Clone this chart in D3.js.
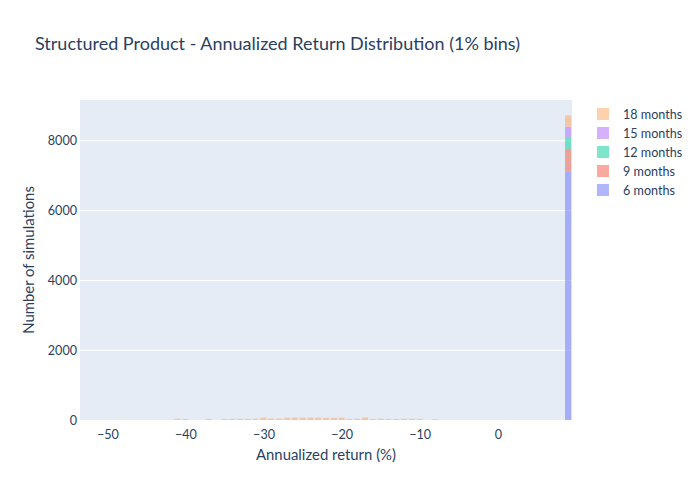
<!DOCTYPE html>
<html>
<head>
<meta charset="utf-8">
<script src="https://cdn.jsdelivr.net/npm/d3@7"></script>
<style>
  body { margin: 0; background: #fff; }
  text { font-family: Lato, "Open Sans", sans-serif; fill: #2a3f5f; }
</style>
</head>
<body>
<svg id="chart" width="700" height="500"></svg>
<script>
// series, bottom of stack first (6 months drawn first)
const seriesNames = ['6 months', '9 months', '12 months', '15 months', '18 months'];
const seriesColors = ['#636efa', '#EF553B', '#00cc96', '#ab63fa', '#FFA15A'];

// bin centres (1% bins) and counts per series
const bins = [-41, -40, -37, -35, -34, -33, -32, -31, -30, -29, -28, -27, -26, -25, -24, -23,
  -22, -21, -20, -19, -18, -17, -16, -15, -14, -13, -12, -11, -10, -8, 9];
const counts6 = [0, 0, 0, 0, 0, 0, 0, 0, 0, 0, 0, 0, 0, 0, 0, 0,
  0, 0, 0, 0, 0, 0, 0, 0, 0, 0, 0, 0, 0, 0, 7117];
const counts9 = [0, 0, 0, 0, 0, 0, 0, 0, 0, 0, 0, 0, 0, 0, 0, 0,
  0, 0, 0, 0, 0, 0, 0, 0, 0, 0, 0, 0, 0, 0, 653];
const counts12 = [0, 0, 0, 0, 0, 0, 0, 0, 0, 0, 0, 0, 0, 0, 0, 0,
  0, 0, 0, 0, 0, 0, 0, 0, 0, 0, 0, 0, 0, 0, 345];
const counts15 = [0, 0, 0, 0, 0, 0, 0, 0, 0, 0, 0, 0, 0, 0, 0, 0,
  0, 0, 0, 0, 0, 0, 0, 0, 0, 0, 0, 0, 0, 0, 288];
const counts18 = [35, 30, 25, 30, 30, 35, 30, 35, 70, 40, 40, 65, 70, 65, 70, 70,
  60, 60, 65, 30, 35, 70, 30, 35, 30, 30, 35, 35, 35, 25, 325];

const xTicks = [-50, -40, -30, -20, -10, 0];
const yTicks = [0, 2000, 4000, 6000, 8000];

const svg = d3.select('#chart');
const margin = { left: 80, right: 128, top: 100, bottom: 80 };
const W = 700, H = 500;
const pw = W - margin.left - margin.right;
const ph = H - margin.top - margin.bottom;

const x = d3.scaleLinear().domain([-53.5, 9.5]).range([margin.left, margin.left + pw]);
const y = d3.scaleLinear().domain([0, 9170]).range([margin.top + ph, margin.top]);

svg.append('rect')
  .attr('x', margin.left).attr('y', margin.top)
  .attr('width', pw).attr('height', ph)
  .attr('fill', '#e5ecf6');

// horizontal grid
svg.append('g')
  .selectAll('line')
  .data(yTicks.filter(d => d > 0))
  .join('line')
  .attr('x1', margin.left).attr('x2', margin.left + pw)
  .attr('y1', d => y(d)).attr('y2', d => y(d))
  .attr('stroke', '#fff').attr('stroke-width', 1);

// stacked bars
const allCounts = [counts6, counts9, counts12, counts15, counts18];
const rows = bins.map((b, i) => {
  const r = { bin: b };
  seriesNames.forEach((s, k) => { r[s] = allCounts[k][i]; });
  return r;
});
const stacked = d3.stack().keys(seriesNames)(rows);
const barW = (x(1) - x(0)) * 0.78;

svg.append('g')
  .selectAll('g')
  .data(stacked)
  .join('g')
  .attr('fill', (d, i) => seriesColors[i])
  .attr('fill-opacity', 0.5)
  .selectAll('rect')
  .data(d => d.filter(v => v[1] > v[0]))
  .join('rect')
  .attr('x', d => x(d.data.bin) - barW / 2)
  .attr('width', barW)
  .attr('y', d => y(d[1]))
  .attr('height', d => y(d[0]) - y(d[1]));

// axes
const xAxis = svg.append('g')
  .attr('transform', `translate(0,${margin.top + ph})`)
  .call(d3.axisBottom(x).tickValues(xTicks).tickSize(0).tickPadding(10).tickFormat(d => d < 0 ? '\u2212' + Math.abs(d) : d));
xAxis.select('.domain').remove();
xAxis.selectAll('text').attr('font-size', 12.6).style('fill', '#2a3f5f');

const yAxis = svg.append('g')
  .attr('transform', `translate(${margin.left},0)`)
  .call(d3.axisLeft(y).tickValues(yTicks).tickSize(0).tickPadding(3).tickFormat(d3.format('d')));
yAxis.select('.domain').remove();
yAxis.selectAll('text').attr('font-size', 12.6).style('fill', '#2a3f5f');

// titles
svg.append('text')
  .attr('x', 35).attr('y', 50)
  .attr('font-size', 18)
  .text('Structured Product - Annualized Return Distribution (1% bins)');

svg.append('text')
  .attr('x', margin.left + pw / 2).attr('y', 460)
  .attr('text-anchor', 'middle')
  .attr('font-size', 14.9)
  .text('Annualized return (%)');

svg.append('text')
  .attr('transform', `translate(34,${margin.top + ph / 2}) rotate(-90)`)
  .attr('text-anchor', 'middle')
  .attr('font-size', 14.9)
  .text('Number of simulations');

// legend, reversed like a stacked plotly histogram
const legend = svg.append('g')
  .selectAll('g')
  .data(seriesNames.slice().reverse())
  .join('g')
  .attr('transform', (d, i) => `translate(597,${114 + i * 19})`);

legend.append('rect')
  .attr('x', 0).attr('y', -6)
  .attr('width', 12).attr('height', 12)
  .attr('fill', d => seriesColors[seriesNames.indexOf(d)])
  .attr('fill-opacity', 0.5);

legend.append('text')
  .attr('x', 26).attr('y', 4.5)
  .attr('font-size', 12.6)
  .text(d => d);
</script>
</body>
</html>
